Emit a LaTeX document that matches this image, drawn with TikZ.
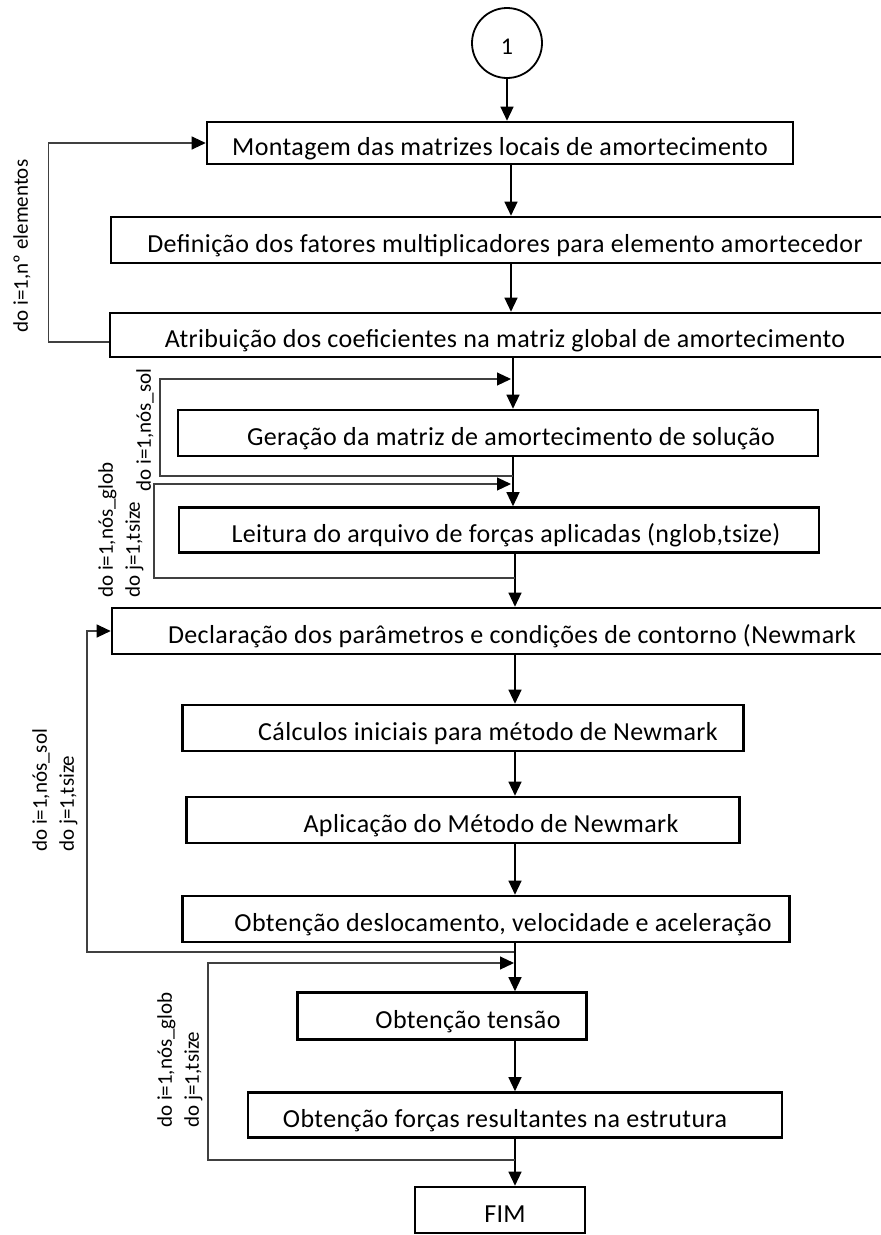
\documentclass[tikz,border=0pt]{standalone}
\usepackage{fontspec}
\setmainfont{Carlito}
\usetikzlibrary{positioning, arrows.meta}
% desloca o texto dentro da caixa (dx em pt)
\newcommand{\desloc}[2]{\ifdim #1pt>0pt \hspace*{#1pt}\hspace*{#1pt}#2\else #2\hspace*{-#1pt}\hspace*{-#1pt}\fi}

\begin{document}
\begin{tikzpicture}[x=1pt, y=-1pt,
    box/.style={draw, line width=2.6pt, font=\fontsize{26}{30}\selectfont\addfontfeature{LetterSpace=1.5},
                inner sep=0pt, text height=24pt, text depth=0pt},
    arr/.style={-{Triangle[length=14pt, width=13pt]}, line width=1.3pt},
    back/.style={-{Triangle[length=14pt, width=13pt, color=black]}, line width=1.1pt, draw=black!75},
    lbl/.style={font=\fontsize{21}{27}\selectfont, rotate=90, inner sep=0pt, align=left},
]
\useasboundingbox (0,0) rectangle (881,1235);
\clip (0,0) rectangle (881,1235);

% fluxo principal
\node[draw, circle, line width=1.8pt, minimum size=70pt, inner sep=0pt,
      font=\fontsize{24}{28}\selectfont, text height=22pt, text depth=0pt] (c1) at (507,43) {1};
\node[box, minimum width=586pt, minimum height=42pt] (b1) at (500,143) {Montagem das matrizes locais de amortecimento};
\node[box, minimum width=788pt, minimum height=46pt] (b2) at (505,240) {Definição dos fatores multiplicadores para elemento amortecedor};
\node[box, minimum width=790pt, minimum height=44pt] (b3) at (505,335) {Atribuição dos coeficientes na matriz global de amortecimento};
\node[box, minimum width=640pt, minimum height=46pt] (b4) at (498,433) {\desloc{13}{Geração da matriz de amortecimento de solução}};
\node[box, minimum width=640pt, minimum height=45pt] (b5) at (499,530) {\desloc{7}{Leitura do arquivo de forças aplicadas (nglob,tsize)}};
\node[box, minimum width=800pt, minimum height=46pt] (b6) at (512,631) {Declaração dos parâmetros e condições de contorno (Newmark};
\node[box, minimum width=561pt, minimum height=46pt] (b7) at (463,728) {\desloc{25}{Cálculos iniciais para método de Newmark}};
\node[box, minimum width=553pt, minimum height=46pt] (b8) at (463,820) {\desloc{28}{Aplicação do Método de Newmark}};
\node[box, minimum width=607pt, minimum height=46pt] (b9) at (486,919) {\desloc{17}{Obtenção deslocamento, velocidade e aceleração}};
\node[box, minimum width=289pt, minimum height=47pt] (b10) at (442,1016) {\desloc{26}{Obtenção tensão}};
\node[box, minimum width=534pt, minimum height=45pt] (b11) at (515,1115) {\desloc{-10}{Obtenção forças resultantes na estrutura}};
\node[box, minimum width=170pt, minimum height=46pt] (fim) at (500,1210) {\desloc{5}{FIM}};

% rotulos dos lacos
\node[lbl, anchor=center] (l1) at (22,246) {do i=1,nº elementos};
\node[lbl, anchor=center] (l2) at (145,430) {do i=1,nós\_sol};
\node[lbl, anchor=north west] (l3) at (98,598) {do i=1,nós\_glob\\do j=1,tsize};
\node[lbl, anchor=north west] (l4) at (32,852) {do i=1,nós\_sol\\do j=1,tsize};
\node[lbl, anchor=north west] (l5) at (157,1128) {do i=1,nós\_glob\\do j=1,tsize};

\coordinate (xa) at (511,0);
\coordinate (xb) at (513,0);
\coordinate (xc) at (515,0);

\draw[arr] (c1) -- (c1 |- b1.north);
\draw[arr] (b1.south -| xa) -- (b2.north -| xa);
\draw[arr] (b2.south -| xa) -- (b3.north -| xa);
\draw[arr] (b3.south -| xb) -- (b4.north -| xb);
\draw[arr] (b4.south -| xb) -- (b5.north -| xb);
\draw[arr] (b5.south -| xc) -- (b6.north -| xc);
\draw[arr] (b6.south -| xc) -- (b7.north -| xc);
\draw[arr] (b7.south -| xc) -- (b8.north -| xc);
\draw[arr] (b8.south -| xc) -- (b9.north -| xc);
\draw[arr] (b9.south -| xc) -- (b10.north -| xc);
\draw[arr] (b10.south -| xc) -- (b11.north -| xc);
\draw[arr] (b11.south -| xc) -- (fim.north -| xc);

% lacos
\coordinate (r2a) at (513,476);
\coordinate (r2b) at (511,379);
\coordinate (r3a) at (515,578);
\coordinate (r3b) at (511,484);
\coordinate (r4a) at (514,952);
\coordinate (r5a) at (515,1160);
\coordinate (r5b) at (514,963);
\draw[back] ([yshift=-7pt]b3.west) -- ++(-60,0) |- (b1.west);
\draw[back] (r2a) -- ++(-353,0) |- (r2b);
\draw[back] (r3a) -- ++(-361,0) |- (r3b);
\draw[back] (r4a) -- ++(-427,0) |- (b6.west);
\draw[back] (r5a) -- ++(-307,0) |- (r5b);
\end{tikzpicture}
\end{document}
